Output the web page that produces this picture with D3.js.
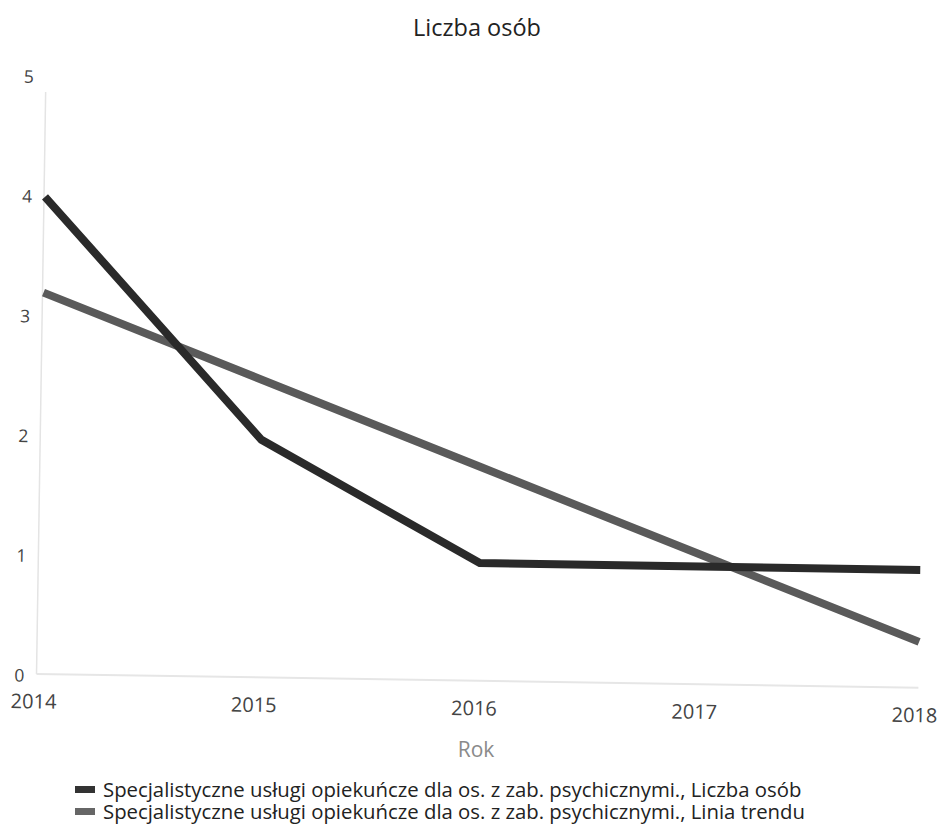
<!DOCTYPE html>
<html><head><meta charset="utf-8">
<script src="https://cdn.jsdelivr.net/npm/d3@7"></script>
<style>body{margin:0;background:#fff;} text{font-family:"Open Sans","Noto Sans",sans-serif;}</style>
</head><body>
<svg id="c" width="941" height="837"></svg>
<script>
const years = ["2014","2015","2016","2017","2018"];
const liczbaOsob = [4, 2, 1, 1, 1];
const liniaTrendu = [3.2, 2.5, 1.8, 1.1, 0.4];
const yTicks = [0, 1, 2, 3, 4, 5];
const seriesNames = [
  "Specjalistyczne usługi opiekuńcze dla os. z zab. psychicznymi., Liczba osób",
  "Specjalistyczne usługi opiekuńcze dla os. z zab. psychicznymi., Linia trendu"
];
const colors = ["#2a2a2a", "#5a5a5a"];

const svg = d3.select("#c");
const x = d3.scalePoint().domain(years).range([45, 926]);
const y = d3.scaleLinear().domain([0, 5]).range([676, 77]);

svg.append("text").attr("x", 477).attr("y", 36).attr("text-anchor", "middle")
  .attr("font-size", 23.5).attr("fill", "#222").text("Liczba osób");

// plot group (scan is slightly rotated)
const g = svg.append("g").attr("transform", "rotate(0.9,45,197)");

g.append("line").attr("x1", 44).attr("x2", 44).attr("y1", 92).attr("y2", 674)
  .attr("stroke", "#e4e4e4").attr("stroke-width", 1.5);
g.append("line").attr("x1", 44).attr("x2", 926).attr("y1", 674).attr("y2", 674)
  .attr("stroke", "#e6e6e6").attr("stroke-width", 2);

g.append("g").selectAll("text").data(yTicks).join("text")
  .attr("x", 27).attr("y", d => y(d) + 6).attr("text-anchor", "middle")
  .attr("font-size", 17.5).attr("fill", "#444").text(d => d);

g.append("g").selectAll("text").data(years).join("text")
  .attr("x", d => x(d) - 3.5).attr("y", 708.5)
  .attr("text-anchor", "middle").attr("font-size", 20).attr("fill", "#444").text(d => d);

const line = d3.line().x((d, i) => x(years[i])).y(d => y(d));
g.append("path").datum(liniaTrendu).attr("d", line).attr("fill", "none")
  .attr("stroke", colors[1]).attr("stroke-width", 8);
g.append("path").datum(liczbaOsob).attr("d", line).attr("fill", "none")
  .attr("stroke", colors[0]).attr("stroke-width", 8).attr("stroke-linejoin", "miter");

svg.append("text").attr("x", 476).attr("y", 757).attr("text-anchor", "middle")
  .attr("font-size", 21).attr("fill", "#8a8a8a").text("Rok");

const lg = svg.append("g").selectAll("g").data(seriesNames).join("g")
  .attr("transform", (d, i) => `translate(75,${797 + i * 22})`);
lg.append("rect").attr("x", 0).attr("y", -11).attr("width", 20).attr("height", 7)
  .attr("fill", (d, i) => i === 0 ? "#333" : "#666");
const lt = lg.append("text").attr("x", 28).attr("y", 0).attr("font-size", 20).attr("fill", "#222")
  .text(d => d);
// fit first legend line to reference width (~699px)
const w0 = lt.node().getComputedTextLength();
lt.attr("font-size", 20 * 699 / w0);
</script>
</body></html>
